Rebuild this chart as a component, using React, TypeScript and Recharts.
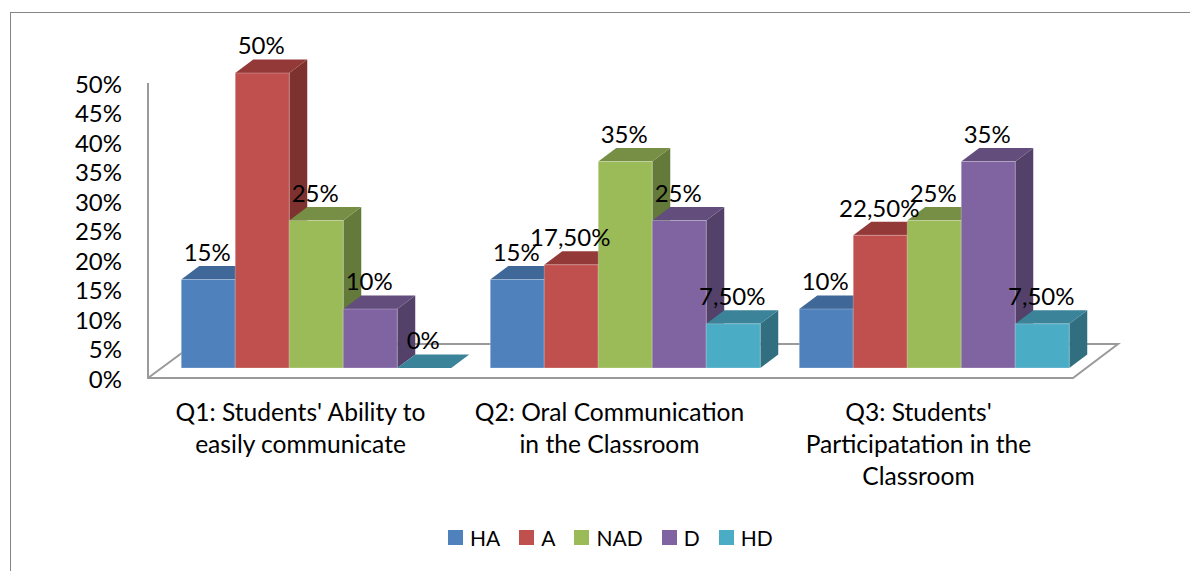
import { Bar, BarChart, Customized, LabelList, Legend, XAxis, YAxis } from "recharts";

const CATEGORIES = ["Q1", "Q2", "Q3"];
const CATEGORY_LINES = [
  ["Q1: Students' Ability to", "easily communicate"],
  ["Q2: Oral Communication", "in the Classroom"],
  ["Q3: Students'", "Participatation in the", "Classroom"],
];
const HA = [15, 15, 10];
const A = [50, 17.5, 22.5];
const NAD = [25, 35, 25];
const D = [10, 25, 35];
const HD = [0, 7.5, 7.5];
const Y_TICKS = [0, 5, 10, 15, 20, 25, 30, 35, 40, 45, 50];

const rows = CATEGORIES.map((name, i) => ({ name, HA: HA[i], A: A[i], NAD: NAD[i], D: D[i], HD: HD[i] }));

const SERIES = [
  { key: "HA", front: "#4f81bd", top: "#3f6797", side: "#355680" },
  { key: "A", front: "#c0504d", top: "#933a38", side: "#7d3230" },
  { key: "NAD", front: "#9bbb59", top: "#778f44", side: "#647a3a" },
  { key: "D", front: "#8064a2", top: "#634d7d", side: "#534169" },
  { key: "HD", front: "#4bacc6", top: "#3a8398", side: "#316f80" },
];

const FONT = "Lato, sans-serif";
const NUM_SIZE = 24;
const CAT_SIZE = 24.6;
const DX = 18;
const DY = 13.5;
const AXIS_COLOR = "#9a9a9a";

// Excel-style 3D box: front face plus top and right faces pushed back by DX/DY
const box3d = (s: (typeof SERIES)[number]) => (props: any) => {
  const { x, y, width, height } = props;
  const r = x + width;
  const b = y + height;
  return (
    <g>
      <polygon points={`${r},${y} ${r + DX},${y - DY} ${r + DX},${b - DY} ${r},${b}`} fill={s.side} />
      <polygon points={`${x},${y} ${x + DX},${y - DY} ${r + DX},${y - DY} ${r},${y}`} fill={s.top} />
      {height > 0 && <rect x={x} y={y} width={width} height={height} fill={s.front} stroke="#ffffff" strokeOpacity={0.25} />}
    </g>
  );
};

const fmt = (v: number) => (Number.isInteger(v) ? `${v}%` : `${v.toFixed(2).replace(".", ",")}%`);

const barLabel = (props: any) => {
  const { x, y, width, value } = props;
  return (
    <text x={x + width / 2 - 1} y={y - 27} dy="0.35em" textAnchor="middle" fontFamily={FONT} fontSize={NUM_SIZE} fill="#000">
      {fmt(value)}
    </text>
  );
};

const YTick = ({ y, payload }: any) => (
  <text x={122} y={y + 11.5} dy="0.35em" textAnchor="end" fontFamily={FONT} fontSize={NUM_SIZE} fill="#000">
    {payload.value}%
  </text>
);

const XTick = ({ x, index }: any) => (
  <g>
    {CATEGORY_LINES[index].map((line, i) => (
      <text
        key={line}
        x={x - 15}
        y={412 + i * 32}
        dy="0.35em"
        textAnchor="middle"
        fontFamily={FONT}
        fontSize={CAT_SIZE}
        fill="#000"
      >
        {line}
      </text>
    ))}
  </g>
);

const Floor = () => (
  <g fill="none" stroke={AXIS_COLOR} strokeWidth={2}>
    <polyline points="148,83 148,378 1073,378 1118,344 194,344 148,378" />
  </g>
);

const legendContent = () => (
  <div style={{ display: "flex", alignItems: "center", fontFamily: FONT, fontSize: 21, color: "#000", whiteSpace: "nowrap" }}>
    {SERIES.map((s) => (
      <span key={s.key} style={{ display: "flex", alignItems: "center", marginRight: 19 }}>
        <span style={{ width: 15, height: 15, background: s.front, marginRight: 7 }} />
        {s.key}
      </span>
    ))}
  </div>
);

export default function App() {
  return (
    <div style={{ position: "absolute", left: 0, top: 0, width: 1190, height: 571, background: "#fff", overflow: "hidden" }}>
      <div style={{ position: "absolute", left: 10, top: 12, width: 1300, height: 700, border: "1.5px solid #868686" }} />
      <BarChart
        width={1190}
        height={571}
        data={rows}
        margin={{ top: 73, right: 102, bottom: 0, left: 0 }}
        barCategoryGap={20.25}
        barGap={0}
        style={{ position: "absolute", left: 0, top: 0 }}
      >
        <Customized component={Floor} />
        <XAxis dataKey="name" height={203} axisLine={false} tickLine={false} tick={XTick} interval={0} />
        <YAxis width={161} domain={[0, 50]} ticks={Y_TICKS} axisLine={false} tickLine={false} tick={YTick} interval={0} />
        <Legend
          layout="horizontal"
          verticalAlign="middle"
          align="center"
          content={legendContent}
          wrapperStyle={{ left: 448, top: 525, width: 400, height: 30 }}
        />
        {SERIES.map((s) => (
          <Bar key={s.key} dataKey={s.key} fill={s.front} shape={box3d(s)} isAnimationActive={false}>
            <LabelList dataKey={s.key} content={barLabel} />
          </Bar>
        ))}
      </BarChart>
    </div>
  );
}
